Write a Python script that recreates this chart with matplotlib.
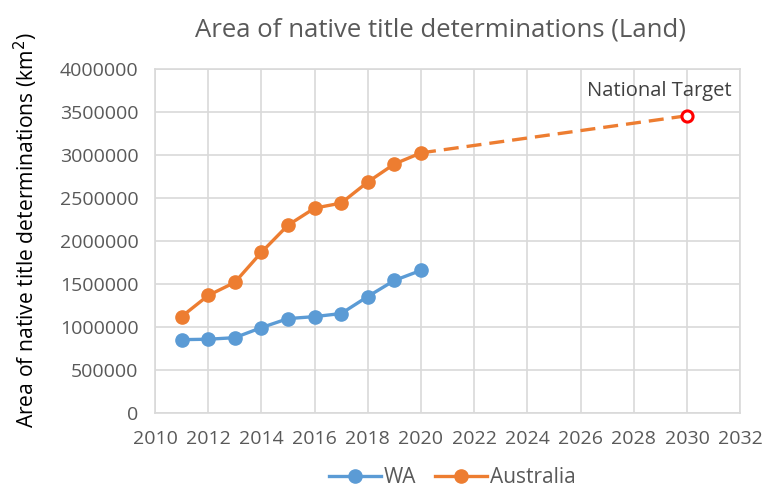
import matplotlib
matplotlib.use("Agg")
import matplotlib.pyplot as plt

years = [2011, 2012, 2013, 2014, 2015, 2016, 2017, 2018, 2019, 2020]
wa = [853000, 858000, 876000, 993000, 1098000, 1121000, 1157000, 1355000, 1542000, 1659000]
australia = [1121000, 1367000, 1519000, 1869000, 2185000, 2383000, 2442000, 2687000, 2897000, 3026000]
target_year = 2030
target_value = 3458000

x_ticks = list(range(2010, 2033, 2))
y_ticks = list(range(0, 4000001, 500000))

blue = "#5b9bd5"
orange = "#ed7d31"
grid_c = "#d9d9d9"
text_c = "#595959"
font = ["Open Sans", "DejaVu Sans"]
plt.rcParams["font.family"] = font

fig = plt.figure(figsize=(7.62, 4.87), dpi=100)
ax = fig.add_axes([0.2034, 0.152, 0.768, 0.706])

ax.plot(years, wa, color=blue, lw=2.4, marker="o", ms=9.5, label="WA", zorder=3)
ax.plot(years, australia, color=orange, lw=2.4, marker="o", ms=9.5, label="Australia", zorder=3)
ax.plot([years[-1], target_year], [australia[-1], target_value], color=orange, lw=2.4,
        ls=(0, (4.5, 2.4)), zorder=2)
ax.plot([target_year], [target_value], marker="o", ms=8, mfc="white", mec="#ff0000",
        mew=2.2, ls="none", zorder=4)
ax.annotate("National Target", (target_year, target_value), xytext=(-20, 18),
            textcoords="offset points", ha="center", va="center", fontsize=14.5, color="#404040")

ax.set_xlim(2010, 2032)
ax.set_ylim(0, 4000000)
ax.set_xticks(x_ticks)
ax.set_yticks(y_ticks)
ax.set_xticklabels([str(t) for t in x_ticks])
ax.set_yticklabels([str(t) for t in y_ticks])
ax.grid(True, color=grid_c, lw=1.2)
ax.set_axisbelow(True)
for s in ax.spines.values():
    s.set_color(grid_c)
    s.set_linewidth(1.2)
ax.tick_params(length=0, labelsize=14, colors=text_c)
ax.tick_params(axis="y", pad=12)
ax.tick_params(axis="x", pad=12)

ax.set_ylabel("Area of native title determinations (km$^2$)", fontsize=15.2, color="black")
ax.yaxis.set_label_coords(-0.197, 0.532)
fig.suptitle("Area of native title determinations (Land)", x=0.578, y=0.965, fontsize=18.5, color=text_c)

ax.legend(loc="center", bbox_to_anchor=(0.508, -0.188), ncol=2, frameon=False,
          fontsize=15, labelcolor=text_c, handlelength=2.5, columnspacing=0.9, handletextpad=0.15)

fig.savefig("out.png", dpi=100)
